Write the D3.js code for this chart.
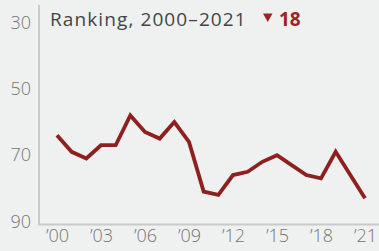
<!DOCTYPE html>
<html>
<head>
<meta charset="utf-8">
<script src="https://cdn.jsdelivr.net/npm/d3@7"></script>
<style>
  body { margin: 0; background: #eff1f0; }
  svg { display: block; font-family: "Open Sans", Lato, sans-serif; }
</style>
</head>
<body>
<div id="chart"></div>
<script>
var years = d3.range(2000, 2022);
var ranks = [64, 69, 71, 67, 67, 58, 63, 65, 60, 66, 81, 82, 76, 75, 72, 70, 73, 76, 77, 69, 76, 83];
var yTicks = [30, 50, 70, 90];
var xTicks = [2000, 2003, 2006, 2009, 2012, 2015, 2018, 2021];
var title = "Ranking, 2000\u20132021";
var change = "18";

var W = 379, H = 251;
var svg = d3.select("#chart").append("svg").attr("width", W).attr("height", H);
svg.append("rect").attr("width", W).attr("height", H).attr("fill", "#eff1f0");

var x = d3.scaleLinear().domain([2000, 2021]).range([57, 365]);
var y = d3.scaleLinear().domain([30, 90]).range([22.5, 221.5]);

// axis lines
svg.append("line").attr("x1", 39).attr("x2", 39).attr("y1", 5).attr("y2", 224.5)
  .attr("stroke", "#c9cbcb").attr("stroke-width", 2);
svg.append("line").attr("x1", 38).attr("x2", W).attr("y1", 224.5).attr("y2", 224.5)
  .attr("stroke", "#c9cbcb").attr("stroke-width", 2);

var yAxis = d3.axisLeft(y).tickValues(yTicks).tickSize(0).tickPadding(0);
var gy = svg.append("g").attr("transform", "translate(31,0)").call(yAxis);
gy.select(".domain").remove();
gy.selectAll("text").attr("fill", "#747474").attr("font-size", 18).attr("font-weight", 300)
  .attr("font-family", "'Open Sans', sans-serif");

var xAxis = d3.axisBottom(x).tickValues(xTicks).tickSize(0).tickPadding(0)
  .tickFormat(function(d) { return "\u2019" + String(d).slice(2); });
var gx = svg.append("g").attr("transform", "translate(0,229)").call(xAxis);
gx.select(".domain").remove();
gx.selectAll("text").attr("fill", "#747474").attr("font-size", 18).attr("font-weight", 300)
  .attr("font-family", "'Open Sans', sans-serif");

var line = d3.line().x(function(d, i) { return x(years[i]); }).y(function(d) { return y(d); });
svg.append("path").datum(ranks).attr("d", line)
  .attr("fill", "none").attr("stroke", "#8e2020").attr("stroke-width", 3.8)
  .attr("stroke-linejoin", "miter").attr("stroke-linecap", "butt");

svg.append("text").attr("x", 50).attr("y", 26).attr("font-size", 19)
  .attr("letter-spacing", 1.1).attr("fill", "#444").text(title);
// down triangle
svg.append("path").attr("d", "M263,13.5 L272.5,13.5 L267.75,22 Z").attr("fill", "#9b2424");
svg.append("text").attr("x", 279).attr("y", 26).attr("font-size", 19).attr("font-weight", "bold")
  .attr("fill", "#9b2424").text(change);
</script>
</body>
</html>
